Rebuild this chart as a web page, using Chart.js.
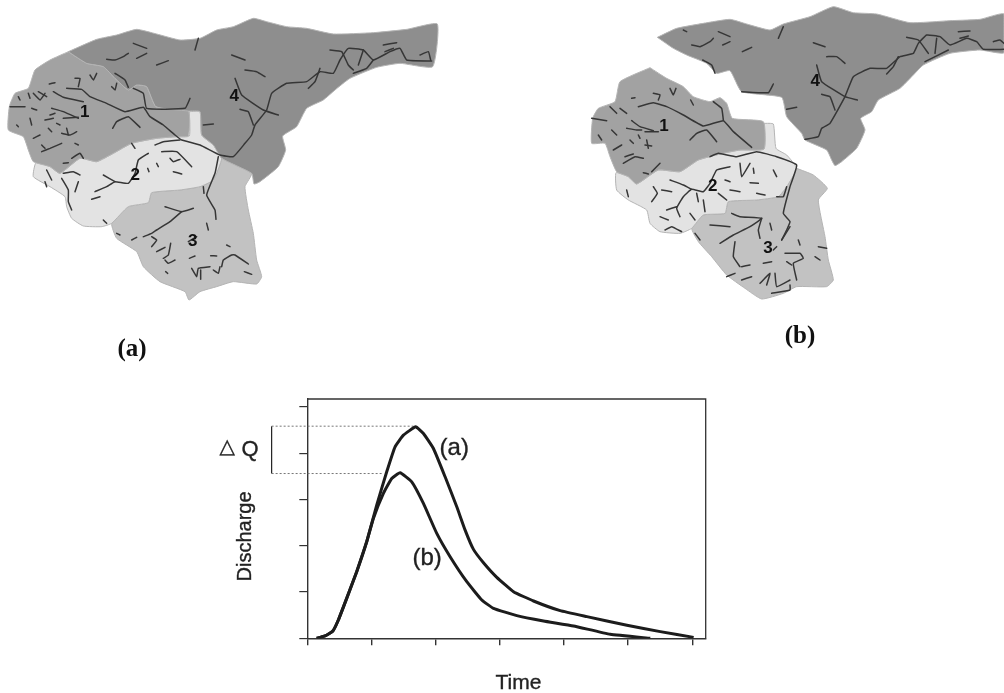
<!DOCTYPE html>
<html><head><meta charset="utf-8">
<style>
html,body{margin:0;padding:0;background:#fff;width:1004px;height:693px;overflow:hidden}
canvas{position:absolute;display:block;filter:blur(.55px)}
.cap{position:absolute;font:bold 25px "Liberation Serif",serif;color:#111;transform:translate(-50%,-50%);white-space:nowrap;filter:blur(.3px)}
</style>
<script src="https://cdn.jsdelivr.net/npm/chart.js@4"></script>
</head><body>
<canvas id="hydro" width="1004" height="693" style="left:0;top:0"></canvas>
<canvas id="mapA" width="450" height="300" style="left:0;top:10px"></canvas>
<canvas id="mapB" width="434" height="310" style="left:570px;top:0"></canvas>
<div class="cap" style="left:132px;top:348px">(a)</div>
<div class="cap" style="left:800px;top:335px">(b)</div>
<script>
// Hydrograph values (Time, Discharge in tick units)
const timeA = [0.146,0.276,0.395,0.484,0.614,0.770,0.926,1.082,1.238,1.368,1.498,1.690,1.810,1.966,2.148,2.330,2.460,2.590,2.746,2.954,3.214,3.526,3.942,4.358,4.982,5.502,6.022];
const dischargeA = [0,0.05,0.151,0.396,0.863,1.439,2.086,2.878,3.597,4.137,4.388,4.568,4.424,4.101,3.489,2.842,2.338,1.921,1.633,1.317,1.007,0.806,0.597,0.468,0.281,0.144,0.02];
const timeB = [0.146,0.276,0.395,0.484,0.614,0.770,0.926,1.03,1.186,1.316,1.446,1.628,1.810,2.018,2.226,2.486,2.720,2.902,3.266,3.682,4.150,4.722,5.346];
const dischargeB = [0,0.05,0.151,0.396,0.863,1.439,2.086,2.59,3.13,3.453,3.576,3.381,2.914,2.266,1.763,1.223,0.827,0.647,0.489,0.374,0.266,0.086,0];
const peakA = 4.583, peakB = 3.56, bracketTime = -0.556, peakTimeA = 1.69, peakTimeB = 1.186;
const notes = [['(a)',2.29,4.11,24,0],['(b)',1.867,1.734,24,0],['Q',-0.894,4.07,22,0],['\u25B3',-1.25,4.12,20,0],['Time',3.29,-0.964,21,0],['Discharge',-0.97,2.2,20,-90]];

// Sub-basin outlines, map (a)
const a4 = [[205,125],[290,88],[350,75],[410,58],[470,72],[540,90],[600,85],[650,60],[700,50],[760,25],[800,35],[860,50],[920,55],[1000,72],[1120,68],[1220,58],[1312,42],[1298,170],[1200,160],[1130,172],[1050,205],[1005,240],[970,270],[920,295],[890,350],[848,378],[857,420],[835,470],[780,515],[762,522],[755,490],[665,445],[640,405],[605,375],[600,305],[565,303],[468,290],[440,230],[410,225],[385,240],[345,205],[310,170],[260,160]];
const a1 = [[205,125],[260,160],[310,170],[345,205],[385,240],[410,225],[440,230],[468,290],[565,303],[565,378],[530,380],[470,385],[395,400],[340,430],[290,455],[240,445],[180,490],[150,470],[100,455],[85,420],[70,380],[25,360],[28,290],[45,250],[85,235],[105,180],[150,150]];
const a2 = [[568,305],[600,305],[605,375],[640,405],[665,445],[640,510],[600,530],[540,540],[455,548],[445,578],[385,590],[335,640],[305,650],[250,648],[215,625],[200,590],[195,560],[150,530],[100,500],[108,458],[150,470],[180,490],[240,445],[290,455],[340,430],[395,400],[470,385],[530,380],[568,378]];
const a3 = [[665,445],[755,490],[735,530],[745,600],[760,670],[770,750],[785,800],[770,822],[700,815],[650,830],[600,845],[567,870],[555,845],[480,815],[430,770],[410,725],[350,685],[335,640],[385,590],[445,578],[455,548],[540,540],[600,530],[640,510]];
// Sub-basin outlines, map (b)
const b4 = [[262,112],[320,85],[400,70],[480,58],[530,72],[600,90],[640,72],[720,50],[790,20],[850,38],[920,42],[1020,68],[1140,62],[1230,58],[1302,42],[1302,158],[1230,150],[1140,160],[1060,195],[1030,225],[990,265],[925,300],[905,335],[872,355],[885,390],[860,445],[815,485],[795,497],[785,480],[770,450],[705,420],[695,400],[650,350],[635,292],[515,275],[480,212],[440,220],[410,190],[350,165],[310,145]];
const b1 = [[240,203],[290,235],[340,260],[370,290],[420,305],[450,293],[470,310],[487,355],[580,365],[582,447],[510,450],[450,462],[385,480],[330,515],[265,510],[200,552],[175,530],[140,515],[120,470],[105,430],[65,430],[68,355],[85,325],[135,305],[150,245]];
const b2 = [[582,370],[610,372],[618,445],[650,465],[680,505],[650,560],[625,590],[560,600],[475,605],[465,640],[400,645],[365,685],[330,700],[270,695],[240,670],[230,630],[175,600],[140,570],[138,518],[175,530],[200,552],[265,510],[330,515],[385,480],[450,462],[510,450],[582,447]];
const b3 = [[680,505],[730,525],[772,565],[745,600],[765,710],[775,780],[790,840],[770,860],[680,860],[640,880],[575,897],[525,865],[470,825],[425,770],[385,725],[365,685],[400,645],[465,640],[475,605],[560,600],[625,590],[650,560]];

// Stream network, map (a)
const streamsA = [
[[200,235],[245,238],[270,260],[320,280],[375,305],[430,292],[450,320],[490,345],[525,375],[545,390],[600,405],[660,435],[700,440],[735,400],[755,375],[765,345],[800,300],[815,250],[860,220],[920,215],[960,185],[1000,190],[1020,150],[1045,115],[1090,120],[1120,150],[1170,125],[1200,115],[1220,150],[1295,153]],
[[400,235],[430,250],[440,295],[555,295],[570,265]],[[595,85],[585,120]],[[705,205],[725,255],[790,300],[835,315]],[[720,298],[745,305],[760,345]],[[735,180],[770,185],[795,200]],[[695,135],[735,150]],[[610,345],[640,342]],[[345,190],[375,210],[385,232]],[[320,148],[345,150],[370,140],[385,130]],[[400,100],[440,115]],[[410,145],[440,130]],[[470,165],[505,152]],[[338,355],[350,335],[385,320],[420,352]],[[160,245],[190,262],[250,275]],[[155,295],[190,305],[235,325]],[[190,325],[235,322]],[[990,120],[1025,125],[1045,165],[1060,180]],[[1060,190],[1100,175],[1120,150]],[[925,235],[945,215],[960,175]],[[1150,105],[1190,98]],[[1155,125],[1180,115]],[[1090,120],[1075,165]],[[1260,135],[1285,125],[1292,150]],
[[395,400],[405,415]],[[465,405],[490,395],[540,390]],[[485,425],[530,425],[575,470]],[[510,445],[520,455],[540,448]],[[445,430],[415,450],[405,490],[385,520],[345,515],[320,530],[285,545]],[[310,495],[345,515]],[[275,568],[300,560]],[[235,515],[225,545]],[[470,460],[475,470]],[[520,485],[545,492]],[[443,475],[447,485]],[[190,490],[220,485],[240,495]],[[655,440],[645,490],[620,555],[645,600],[648,628]],[[610,530],[612,550]],[[185,505],[205,540],[205,575],[215,600]],[[140,480],[155,510]],[[135,515],[140,530]],[[310,630],[320,640]],
[[495,590],[545,605],[580,595]],[[545,605],[510,635],[470,660],[455,670],[430,680]],[[620,640],[625,660]],[[395,690],[410,682]],[[455,680],[470,690],[455,710]],[[470,725],[495,712]],[[512,700],[505,735],[490,745]],[[495,750],[505,760],[525,750]],[[568,745],[585,738]],[[632,737],[650,738]],[[680,705],[690,710]],[[665,770],[670,750],[695,735],[705,735],[745,762]],[[575,775],[590,800],[595,775],[630,770]],[[602,780],[602,808]],[[640,780],[655,790],[660,770]],[[733,785],[755,793]],[[497,785],[503,790]],[[565,695],[590,680]],[[350,670],[360,675]],
[[30,290],[75,290]],[[100,250],[120,270],[135,250]],[[115,245],[140,260]],[[95,295],[110,300]],[[90,325],[95,345]],[[100,385],[120,375]],[[150,315],[165,310]],[[135,330],[160,325]],[[145,355],[155,365]],[[170,340],[180,345]],[[125,425],[150,415],[185,400]],[[125,405],[135,415]],[[185,370],[210,375],[230,365]],[[200,355],[205,375]],[[225,400],[235,405]],[[215,445],[240,430],[250,445]],[[190,460],[205,458]],[[225,205],[240,205],[235,230]],[[270,195],[280,210],[290,190]],[[335,230],[345,240],[350,220]],[[148,222],[165,218]],[[55,260],[60,270]],[[50,345],[55,350]],[[85,250],[90,265]]
];
// Stream network, map (b)
const streamsB = [
[[205,320],[250,308],[290,320],[340,345],[400,378],[460,362],[490,395],[545,442]],[[430,305],[455,325],[460,360]],[[360,420],[380,400],[410,390],[440,425]],[[185,362],[210,380],[250,392]],[[170,385],[200,390],[215,390]],[[225,395],[265,395]],[[65,355],[110,362]],[[120,320],[140,340]],[[150,325],[170,340]],[[125,390],[140,405]],[[85,405],[95,420]],[[130,450],[155,435]],[[180,420],[190,430]],[[205,405],[210,415]],[[160,490],[195,470],[220,475]],[[165,470],[190,462]],[[225,435],[245,438]],[[230,420],[235,445]],[[245,515],[270,490]],[[220,518],[235,522]],[[185,295],[195,293]],[[250,280],[270,285],[265,300]],[[300,265],[310,285],[318,265]],[[362,300],[370,315]],
[[340,90],[350,95]],[[365,135],[390,140],[420,125],[430,115]],[[445,95],[480,110]],[[458,135],[480,125]],[[517,155],[545,142]],[[640,80],[625,115]],[[730,128],[765,140]],[[770,170],[800,170],[825,190]],[[398,180],[425,195],[435,220]],[[515,275],[595,278],[610,252]],[[740,195],[755,245],[825,290],[862,300]],[[755,283],[780,290],[795,330]],[[650,328],[680,322]],[[705,418],[745,410],[755,385],[780,370],[825,290],[850,230],[900,205],[950,205],[990,170],[1030,160],[1045,130],[1070,105],[1110,110],[1140,135],[1190,115],[1220,125],[1240,148],[1302,148]],[[1010,112],[1045,120],[1075,160]],[[950,222],[970,200],[985,170]],[[1065,185],[1135,150]],[[1100,115],[1095,160]],[[1165,95],[1200,93]],[[1170,115],[1195,108]],[[1270,125],[1290,120],[1302,130]],
[[420,470],[445,460],[500,470],[560,455],[620,470],[680,495],[660,560],[640,640],[660,665],[650,690],[635,720]],[[480,500],[440,510],[420,550],[400,575],[365,568],[340,590],[320,625],[330,650]],[[300,540],[340,555],[365,568]],[[275,570],[305,575]],[[250,560],[262,580],[245,605]],[[170,570],[175,590]],[[380,580],[385,605]],[[400,600],[405,635]],[[360,640],[375,660]],[[270,650],[295,660]],[[285,690],[305,680],[335,695]],[[290,630],[320,620]],[[510,490],[515,530],[540,490]],[[550,505],[552,520]],[[610,510],[620,530]],[[540,548],[565,550]],[[465,540],[480,545]],[[480,570],[510,575]],[[445,580],[470,600]],[[560,580],[585,585]],
[[485,640],[510,650],[575,655],[540,680],[490,705],[450,730]],[[575,655],[565,690],[570,715]],[[495,725],[490,770],[510,800]],[[420,675],[480,680]],[[375,700],[390,720]],[[600,670],[605,690]],[[620,590],[640,590],[650,560]],[[635,720],[660,680]],[[685,720],[690,735]],[[745,740],[770,745]],[[735,770],[750,780]],[[645,760],[690,760],[700,775],[670,790],[680,840]],[[650,785],[665,795]],[[580,790],[605,785]],[[515,800],[540,795]],[[470,830],[495,820]],[[515,840],[545,830]],[[570,850],[600,820],[590,855]],[[615,820],[620,860],[660,840]],[[605,880],[660,870],[660,855]],[[610,750],[620,740]]
];
const labelsA = [['1',254,308],['2',406,497],['3',578,693],['4',703,258]];
const labelsB = [['1',282,378],['2',428,558],['3',594,745],['4',736,243]];
const regionColors = ['#8e8e8e','#a2a2a2','#e3e3e3','#c2c2c2'];

const xy = (xs, ys) => xs.map((x, i) => ({x, y: ys[i]}));
const pts = p => p.map(([x, y]) => ({x, y}));

function drawMap(id, regions, streams, labels, w, h) {
  const datasets = [];
  regions.forEach((r, i) => datasets.push({
    data: pts(r.concat([r[0]])), showLine: true, fill: 'shape', tension: 0.15,
    backgroundColor: regionColors[i], borderColor: '#b4b4b4', borderWidth: 1, pointRadius: 0, order: 3
  }));
  streams.forEach(s => datasets.push({
    data: pts(s), showLine: true, fill: false, tension: 0.12,
    borderColor: '#363636', borderWidth: 1.5, pointRadius: 0, order: 1, borderCapStyle: 'round'
  }));
  new Chart(document.getElementById(id), {
    type: 'scatter',
    data: {datasets},
    options: {
      responsive: false, animation: false, devicePixelRatio: 1,
      layout: {padding: 0},
      plugins: {legend: {display: false}, tooltip: {enabled: false}},
      scales: {
        x: {display: false, min: 0, max: w},
        y: {display: false, min: 0, max: h, reverse: true}
      }
    },
    plugins: [{
      id: 'basinNumbers',
      afterDatasetsDraw(c) {
        const g = c.ctx;
        g.save();
        g.font = 'bold 17px "Liberation Sans",sans-serif';
        g.fillStyle = '#111';
        g.textAlign = 'center'; g.textBaseline = 'middle';
        labels.forEach(([t, x, y]) => g.fillText(t, c.scales.x.getPixelForValue(x), c.scales.y.getPixelForValue(y)));
        g.restore();
      }
    }]
  });
}
drawMap('mapA', [a4, a1, a2, a3], streamsA, labelsA, 1350, 900);
drawMap('mapB', [b4, b1, b2, b3], streamsB, labelsB, 1302, 930);

const axisColor = '#333';
new Chart(document.getElementById('hydro'), {
  type: 'scatter',
  data: {datasets: [
    {label: '(a)', data: xy(timeA, dischargeA), showLine: true, tension: 0.12, borderColor: '#1c1c1c', borderWidth: 3, pointRadius: 0},
    {label: '(b)', data: xy(timeB, dischargeB), showLine: true, tension: 0.12, borderColor: '#1c1c1c', borderWidth: 3, pointRadius: 0},
    {label: 'peak a', data: [{x: bracketTime, y: peakA}, {x: peakTimeA, y: peakA}], showLine: true, clip: false, borderColor: '#777', borderWidth: 1, borderDash: [2, 2], pointRadius: 0},
    {label: 'peak b', data: [{x: bracketTime, y: peakB}, {x: peakTimeB, y: peakB}], showLine: true, clip: false, borderColor: '#777', borderWidth: 1, borderDash: [2, 2], pointRadius: 0},
    {label: 'delta', data: [{x: bracketTime, y: peakA}, {x: bracketTime, y: peakB}], showLine: true, clip: false, borderColor: '#222', borderWidth: 1.2, pointRadius: 0}
  ]},
  options: {
    responsive: false, animation: false, devicePixelRatio: 1,
    layout: {padding: {left: 299.3, right: 298.3, top: 399, bottom: 47.7}},
    plugins: {legend: {display: false}, tooltip: {enabled: false}},
    scales: {
      x: {
        min: 0, max: 6.21,
        ticks: {display: false, stepSize: 1, includeBounds: false},
        grid: {drawOnChartArea: false, drawTicks: true, tickLength: 7, color: axisColor, lineWidth: 1.4},
        border: {display: true, color: axisColor, width: 1.4}
      },
      y: {
        min: 0, max: 5.17,
        ticks: {display: false, stepSize: 1, includeBounds: false},
        grid: {drawOnChartArea: false, drawTicks: true, tickLength: 8, color: axisColor, lineWidth: 1.2},
        border: {display: true, color: axisColor, width: 1.4}
      }
    }
  },
  plugins: [{
    id: 'frameAndNotes',
    afterDatasetsDraw(c) {
      const g = c.ctx, a = c.chartArea, X = c.scales.x, Y = c.scales.y;
      g.save();
      g.strokeStyle = axisColor; g.lineWidth = 1.3;
      g.beginPath();
      g.moveTo(a.left, a.top); g.lineTo(a.right, a.top); g.lineTo(a.right, a.bottom);
      g.stroke();
      g.fillStyle = '#222'; g.strokeStyle = '#222'; g.lineWidth = 0.35;
      g.textAlign = 'center'; g.textBaseline = 'middle';
      notes.forEach(([t, x, y, s, rot]) => {
        g.save();
        g.font = s + 'px ' + (t === '\u25B3' ? '"DejaVu Sans"' : '"Liberation Sans"') + ',sans-serif';
        g.translate(X.getPixelForValue(x), Y.getPixelForValue(y));
        g.rotate(rot * Math.PI / 180);
        g.fillText(t, 0, 0);
        g.strokeText(t, 0, 0);
        g.restore();
      });
      g.restore();
    }
  }]
});
</script>
</body></html>
